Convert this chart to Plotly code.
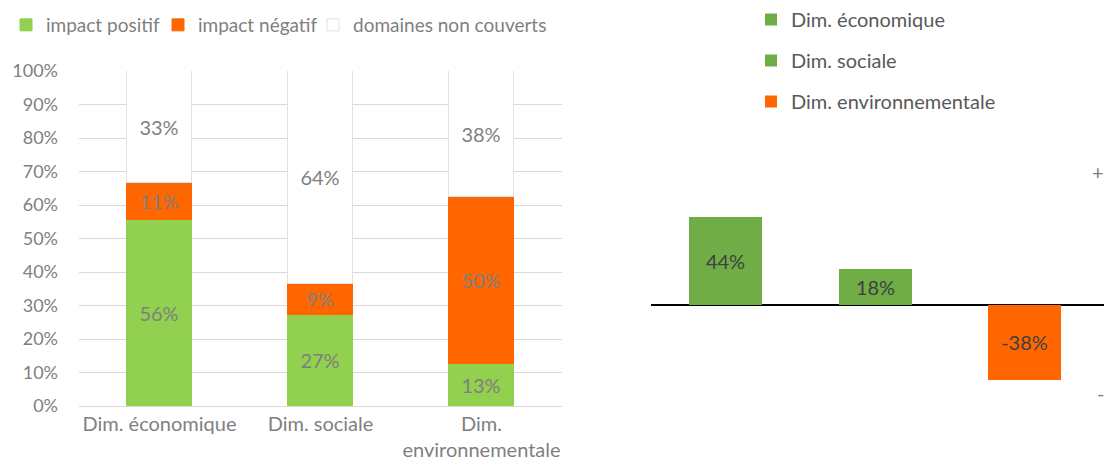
import plotly.graph_objects as go

# ---- data: left chart (stacked %) ----
categories = ["Dim. économique", "Dim. sociale", "Dim.<br>environnementale"]
positif = [55.6, 27.3, 12.5]
negatif = [11.1, 9.1, 50.0]
non_couverts = [33.3, 63.6, 37.5]
y_ticks = [0, 10, 20, 30, 40, 50, 60, 70, 80, 90, 100]
y_tick_text = ["0%", "10%", "20%", "30%", "40%", "50%", "60%", "70%", "80%", "90%", "100%"]

# ---- data: right chart (net impact) ----
net_names = ["Dim. économique", "Dim. sociale", "Dim. environnementale"]
net_values = [44.4, 18.2, -37.5]
net_colors = ["#70AD47", "#70AD47", "#FF6600"]

W, H = 1104, 470
FONT = "Lato"
GRAY = "#7F7F7F"
FS = 20


def pct(v):
    s = -1 if v < 0 else 1
    return f"{s * int(abs(v) + 0.5)}%"


def px_x(p):
    return p / W


def px_y(p):
    return 1 - p / H


fig = go.Figure()

# Left stacked bars (each series has its own one-item legend, placed side by side)
left_series = [
    ("impact positif", positif, "#92D050", "#92D050", "legend", 6),
    ("impact négatif", negatif, "#FF6600", "#FF6600", "legend3", 158),
    ("domaines non couverts", non_couverts, "#FFFFFF", "#E0E0E0", "legend4", 313),
]
for name, vals, color, line, leg, _ in left_series:
    fig.add_trace(go.Bar(
        x=categories, y=vals, name=name,
        marker=dict(color=color, line=dict(color=line, width=1)),
        width=0.4,
        text=[pct(v) for v in vals], textposition="inside",
        insidetextanchor="middle", constraintext="none",
        textfont=dict(color=GRAY, size=FS, family=FONT),
        xaxis="x", yaxis="y", legend=leg,
        hoverinfo="skip",
    ))

# Right net bars
for name, val, color in zip(net_names, net_values, net_colors):
    fig.add_trace(go.Bar(
        x=[name], y=[val], name=name,
        marker=dict(color=color, line=dict(width=0)),
        width=0.49,
        text=[pct(val)], textposition="inside",
        insidetextanchor="middle", constraintext="none",
        textfont=dict(color="#404040", size=FS, family=FONT),
        xaxis="x2", yaxis="y2", legend="legend2", legendgroup=name,
        hoverinfo="skip",
    ))

legend_left = {}
for name, _, _, _, leg, xpx in left_series:
    legend_left[leg] = dict(
        orientation="h",
        x=px_x(xpx), y=px_y(6), xanchor="left", yanchor="top",
        font=dict(size=19, color=GRAY, family=FONT),
        itemwidth=30,
        bgcolor="rgba(0,0,0,0)",
    )

fig.update_layout(
    width=W, height=H,
    margin=dict(l=0, r=0, t=0, b=0, autoexpand=False),
    paper_bgcolor="white", plot_bgcolor="white",
    font=dict(family=FONT, size=FS, color=GRAY),
    barmode="relative",
    bargap=0,
    showlegend=True,
    xaxis=dict(
        domain=[px_x(79), px_x(562)],
        type="category",
        showline=True, linecolor="#D9D9D9", linewidth=1,
        showgrid=False, ticks="",
        tickfont=dict(size=FS, color=GRAY, family=FONT),
        anchor="y", automargin=False,
    ),
    yaxis=dict(
        domain=[px_y(406), px_y(71)],
        range=[0, 100],
        tickmode="array", tickvals=y_ticks, ticktext=y_tick_text,
        showgrid=True, gridcolor="#D9D9D9", gridwidth=1,
        zeroline=False, showline=False,
        ticks="", ticklabelstandoff=20,
        tickfont=dict(size=18, color=GRAY, family=FONT),
        anchor="x", automargin=False,
    ),
    xaxis2=dict(
        domain=[px_x(651), 1],
        type="category",
        range=[-0.5, 2.53],
        showticklabels=False, showgrid=False, showline=False, ticks="",
        zeroline=False,
        anchor="y2", automargin=False,
    ),
    yaxis2=dict(
        domain=[px_y(423.8), px_y(146.6)],
        range=[-60, 80],
        showticklabels=False, showgrid=False, showline=False, ticks="",
        zeroline=True, zerolinecolor="#000000", zerolinewidth=2,
        anchor="x2", automargin=False,
    ),
    legend2=dict(
        orientation="v",
        x=px_x(751), y=px_y(0), xanchor="left", yanchor="top",
        font=dict(size=FS, color="#595959", family=FONT),
        tracegroupgap=12, traceorder="grouped",
        bgcolor="rgba(0,0,0,0)",
    ),
    annotations=[
        dict(text="+", x=px_x(1106), y=px_y(172), xref="paper", yref="paper",
             xanchor="right", yanchor="middle", showarrow=False,
             font=dict(size=FS, color=GRAY, family=FONT)),
        dict(text="-", x=px_x(1106), y=px_y(393), xref="paper", yref="paper",
             xanchor="right", yanchor="middle", showarrow=False,
             font=dict(size=FS, color=GRAY, family=FONT)),
    ],
    **legend_left,
)

fig.write_html(
    "out.html",
    config={"displayModeBar": False},
    post_script="document.body.style.margin='0';document.body.style.padding='0';",
)
